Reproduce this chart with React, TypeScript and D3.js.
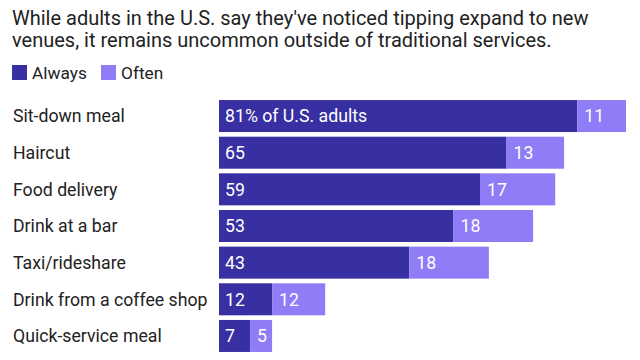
import React, { useRef, useEffect } from 'react';
import * as d3 from 'd3';

const categories = [
  'Sit-down meal',
  'Haircut',
  'Food delivery',
  'Drink at a bar',
  'Taxi/rideshare',
  'Drink from a coffee shop',
  'Quick-service meal',
];
const always = [81, 65, 59, 53, 43, 12, 7];
const often = [11, 13, 17, 18, 18, 12, 5];
const seriesNames = ['Always', 'Often'];
const colors = ['#372fa2', '#8e7df6'];
const titleLines = [
  "While adults in the U.S. say they've noticed tipping expand to new",
  'venues, it remains uncommon outside of traditional services.',
];

const App = () => {
  const svgRef = useRef<SVGSVGElement>(null);

  useEffect(() => {
    const width = 640;
    const height = 360;
    const font = 'Roboto, sans-serif';

    const svg = d3.select(svgRef.current);
    svg.selectAll('*').remove();
    svg.attr('width', width).attr('height', height).style('display', 'block');

    svg.append('rect').attr('width', width).attr('height', height).attr('fill', '#fff');

    // Title
    svg.append('g')
      .selectAll('text')
      .data(titleLines)
      .enter()
      .append('text')
      .attr('x', 12)
      .attr('y', (d, i) => 25 + i * 22)
      .style('font-family', font)
      .style('font-size', '20px')
      .style('fill', '#222')
      .text(d => d);

    // Legend
    const legendX = [12, 101];
    const legend = svg.append('g');
    seriesNames.forEach((name, i) => {
      legend.append('rect')
        .attr('x', legendX[i])
        .attr('y', 65)
        .attr('width', 15)
        .attr('height', 15)
        .attr('fill', colors[i]);
      legend.append('text')
        .attr('x', legendX[i] + 20)
        .attr('y', 79)
        .style('font-family', font)
        .style('font-size', '17.3px')
        .style('fill', '#222')
        .text(name);
    });

    // Scales
    const x = d3.scaleLinear().domain([0, 92]).range([219, 626]);
    const y = d3.scaleBand()
      .domain(categories)
      .range([97.7, 354.3])
      .paddingInner(0.127)
      .paddingOuter(0.064);

    const rows = svg.append('g')
      .selectAll('g')
      .data(categories)
      .enter()
      .append('g');

    rows.append('text')
      .attr('x', 13)
      .attr('y', d => (y(d) as number) + y.bandwidth() / 2)
      .attr('dy', '0.36em')
      .style('font-family', font)
      .style('font-size', '17.7px')
      .style('fill', '#222')
      .text(d => d);

    rows.append('rect')
      .attr('x', x(0))
      .attr('y', d => y(d) as number)
      .attr('width', (d, i) => x(always[i]) - x(0))
      .attr('height', y.bandwidth())
      .attr('fill', colors[0]);

    rows.append('rect')
      .attr('x', (d, i) => x(always[i]))
      .attr('y', d => y(d) as number)
      .attr('width', (d, i) => x(always[i] + often[i]) - x(always[i]))
      .attr('height', y.bandwidth())
      .attr('fill', colors[1]);

    rows.append('text')
      .attr('x', x(0) + 6)
      .attr('y', d => (y(d) as number) + y.bandwidth() / 2)
      .attr('dy', '0.36em')
      .style('font-family', font)
      .style('font-size', '17.7px')
      .style('fill', '#fff')
      .text((d, i) => (i === 0 ? `${always[i]}% of U.S. adults` : `${always[i]}`));

    rows.append('text')
      .attr('x', (d, i) => x(always[i]) + 7)
      .attr('y', d => (y(d) as number) + y.bandwidth() / 2)
      .attr('dy', '0.36em')
      .style('font-family', font)
      .style('font-size', '17.7px')
      .style('fill', '#fff')
      .text((d, i) => `${often[i]}`);
  }, []);

  return (
    <div style={{ position: 'fixed', left: 0, top: 0 }}>
      <svg ref={svgRef}></svg>
    </div>
  );
};

export default App;
